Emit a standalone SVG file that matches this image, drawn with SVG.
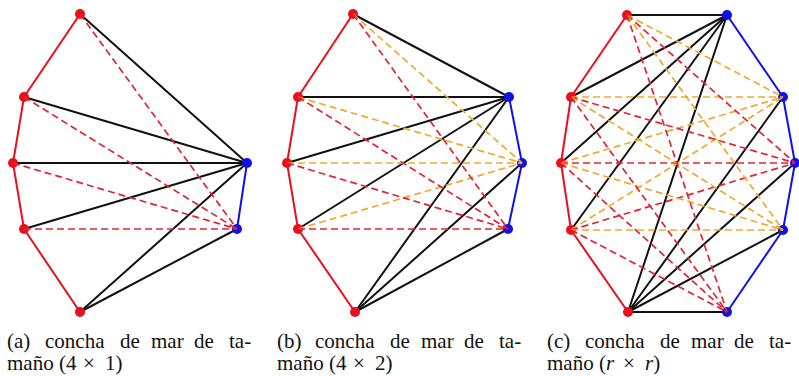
<svg xmlns="http://www.w3.org/2000/svg" width="799" height="376" viewBox="0 0 799 376">
<style>
line{fill:none;stroke-linecap:round}
.r{stroke:#e8101c;stroke-width:2}
.b{stroke:#1010e8;stroke-width:2}
.k{stroke:#111;stroke-width:2}
.dr{stroke:#e02434;stroke-width:1.7;stroke-dasharray:7 4;stroke-linecap:butt}
.dy{stroke:#eeaa30;stroke-width:1.7;stroke-dasharray:7 4;stroke-linecap:butt}
.nr{fill:#e8101c}
.nb{fill:#1010e8}
text{font-family:"Liberation Serif","Times New Roman",serif;font-size:21px;fill:#111}
</style>
<rect width="799" height="376" fill="#fff"/>

<!-- Panel a -->
<g id="panel-a">
<g id="a-connectors">
<line class="r" x1="80" y1="14" x2="24" y2="97"/>
<line class="r" x1="24" y1="97" x2="13" y2="163"/>
<line class="r" x1="13" y1="163" x2="24" y2="229"/>
<line class="r" x1="24" y1="229" x2="80" y2="312"/>
<line class="b" x1="247" y1="163" x2="237" y2="229"/>
<line class="k" x1="80" y1="14" x2="247" y2="163"/>
<line class="k" x1="24" y1="97" x2="247" y2="163"/>
<line class="k" x1="13" y1="163" x2="247" y2="163"/>
<line class="k" x1="24" y1="229" x2="247" y2="163"/>
<line class="k" x1="80" y1="312" x2="247" y2="163"/>
<line class="k" x1="80" y1="312" x2="237" y2="229"/>
</g>
<g id="a-nodes">
<circle id="a-A1" class="nr" cx="80" cy="14" r="5"/>
<circle id="a-A2" class="nr" cx="24" cy="97" r="5"/>
<circle id="a-A3" class="nr" cx="13" cy="163" r="5"/>
<circle id="a-A4" class="nr" cx="24" cy="229" r="5"/>
<circle id="a-A5" class="nr" cx="80" cy="312" r="5"/>
<circle id="a-B1" class="nb" cx="247" cy="163" r="5"/>
<circle id="a-B2" class="nb" cx="237" cy="229" r="5"/>
</g>
<g id="a-dashed">
<line class="dr" x1="80" y1="14" x2="237" y2="229"/>
<line class="dr" x1="24" y1="97" x2="237" y2="229"/>
<line class="dr" x1="13" y1="163" x2="237" y2="229"/>
<line class="dr" x1="24" y1="229" x2="237" y2="229"/>
</g>
</g>

<!-- Panel b -->
<g id="panel-b">
<g id="b-connectors">
<line class="r" x1="353" y1="14" x2="298" y2="97"/>
<line class="r" x1="298" y1="97" x2="287" y2="163"/>
<line class="r" x1="287" y1="163" x2="298" y2="229"/>
<line class="r" x1="298" y1="229" x2="355" y2="312"/>
<line class="b" x1="509" y1="97" x2="522" y2="163"/>
<line class="b" x1="522" y1="163" x2="508" y2="229"/>
<line class="k" x1="353" y1="14" x2="509" y2="97"/>
<line class="k" x1="298" y1="97" x2="509" y2="97"/>
<line class="k" x1="287" y1="163" x2="509" y2="97"/>
<line class="k" x1="298" y1="229" x2="509" y2="97"/>
<line class="k" x1="355" y1="312" x2="509" y2="97"/>
<line class="k" x1="355" y1="312" x2="522" y2="163"/>
<line class="k" x1="355" y1="312" x2="508" y2="229"/>
</g>
<g id="b-nodes">
<circle id="b-A1" class="nr" cx="353" cy="14" r="5"/>
<circle id="b-A2" class="nr" cx="298" cy="97" r="5"/>
<circle id="b-A3" class="nr" cx="287" cy="163" r="5"/>
<circle id="b-A4" class="nr" cx="298" cy="229" r="5"/>
<circle id="b-A5" class="nr" cx="355" cy="312" r="5"/>
<circle id="b-B1" class="nb" cx="509" cy="97" r="5"/>
<circle id="b-B2" class="nb" cx="522" cy="163" r="5"/>
<circle id="b-B3" class="nb" cx="508" cy="229" r="5"/>
</g>
<g id="b-dashed">
<line class="dy" x1="353" y1="14" x2="522" y2="163"/>
<line class="dy" x1="298" y1="97" x2="522" y2="163"/>
<line class="dy" x1="287" y1="163" x2="522" y2="163"/>
<line class="dy" x1="298" y1="229" x2="522" y2="163"/>
<line class="dr" x1="353" y1="14" x2="508" y2="229"/>
<line class="dr" x1="298" y1="97" x2="508" y2="229"/>
<line class="dr" x1="287" y1="163" x2="508" y2="229"/>
<line class="dr" x1="298" y1="229" x2="508" y2="229"/>
</g>
</g>

<!-- Panel c -->
<g id="panel-c">
<g id="c-connectors">
<line class="r" x1="627" y1="15" x2="571" y2="97"/>
<line class="r" x1="571" y1="97" x2="561" y2="163"/>
<line class="r" x1="561" y1="163" x2="571" y2="230"/>
<line class="r" x1="571" y1="230" x2="628" y2="312"/>
<line class="b" x1="727" y1="15" x2="783" y2="97"/>
<line class="b" x1="783" y1="97" x2="795" y2="163"/>
<line class="b" x1="795" y1="163" x2="783" y2="230"/>
<line class="b" x1="783" y1="230" x2="727" y2="312"/>
<line class="k" x1="627" y1="15" x2="727" y2="15"/>
<line class="k" x1="571" y1="97" x2="727" y2="15"/>
<line class="k" x1="561" y1="163" x2="727" y2="15"/>
<line class="k" x1="571" y1="230" x2="727" y2="15"/>
<line class="k" x1="628" y1="312" x2="727" y2="15"/>
<line class="k" x1="628" y1="312" x2="783" y2="97"/>
<line class="k" x1="628" y1="312" x2="795" y2="163"/>
<line class="k" x1="628" y1="312" x2="783" y2="230"/>
<line class="k" x1="628" y1="312" x2="727" y2="312"/>
</g>
<g id="c-nodes">
<circle id="c-A1" class="nr" cx="627" cy="15" r="5"/>
<circle id="c-A2" class="nr" cx="571" cy="97" r="5"/>
<circle id="c-A3" class="nr" cx="561" cy="163" r="5"/>
<circle id="c-A4" class="nr" cx="571" cy="230" r="5"/>
<circle id="c-A5" class="nr" cx="628" cy="312" r="5"/>
<circle id="c-B1" class="nb" cx="727" cy="15" r="5"/>
<circle id="c-B2" class="nb" cx="783" cy="97" r="5"/>
<circle id="c-B3" class="nb" cx="795" cy="163" r="5"/>
<circle id="c-B4" class="nb" cx="783" cy="230" r="5"/>
<circle id="c-B5" class="nb" cx="727" cy="312" r="5"/>
</g>
<g id="c-dashed">
<line class="dy" x1="627" y1="15" x2="783" y2="97"/>
<line class="dy" x1="571" y1="97" x2="783" y2="97"/>
<line class="dy" x1="561" y1="163" x2="783" y2="97"/>
<line class="dy" x1="571" y1="230" x2="783" y2="97"/>
<line class="dr" x1="627" y1="15" x2="795" y2="163"/>
<line class="dr" x1="571" y1="97" x2="795" y2="163"/>
<line class="dr" x1="561" y1="163" x2="795" y2="163"/>
<line class="dr" x1="571" y1="230" x2="795" y2="163"/>
<line class="dy" x1="627" y1="15" x2="783" y2="230"/>
<line class="dy" x1="571" y1="97" x2="783" y2="230"/>
<line class="dy" x1="561" y1="163" x2="783" y2="230"/>
<line class="dy" x1="571" y1="230" x2="783" y2="230"/>
<line class="dr" x1="627" y1="15" x2="727" y2="312"/>
<line class="dr" x1="571" y1="97" x2="727" y2="312"/>
<line class="dr" x1="561" y1="163" x2="727" y2="312"/>
<line class="dr" x1="571" y1="230" x2="727" y2="312"/>
</g>
</g>

<!-- Captions -->
<g id="captions">
<text y="348"><tspan x="7">(a)</tspan><tspan x="45">concha</tspan><tspan x="120">de</tspan><tspan x="151">mar</tspan><tspan x="194">de</tspan><tspan x="229">ta-</tspan></text>
<text y="370"><tspan x="7">maño</tspan><tspan x="59">(4</tspan><tspan x="83">×</tspan><tspan x="105">1)</tspan></text>
<text y="348"><tspan x="277">(b)</tspan><tspan x="315">concha</tspan><tspan x="390">de</tspan><tspan x="421">mar</tspan><tspan x="464">de</tspan><tspan x="499">ta-</tspan></text>
<text y="370"><tspan x="277">maño</tspan><tspan x="329">(4</tspan><tspan x="353">×</tspan><tspan x="375">2)</tspan></text>
<text y="348"><tspan x="547">(c)</tspan><tspan x="585">concha</tspan><tspan x="660">de</tspan><tspan x="691">mar</tspan><tspan x="734">de</tspan><tspan x="769">ta-</tspan></text>
<text y="370"><tspan x="547">maño</tspan><tspan x="599">(<tspan font-style="italic">r</tspan></tspan><tspan x="623">×</tspan><tspan x="645"><tspan font-style="italic">r</tspan>)</tspan></text>
</g>
</svg>
